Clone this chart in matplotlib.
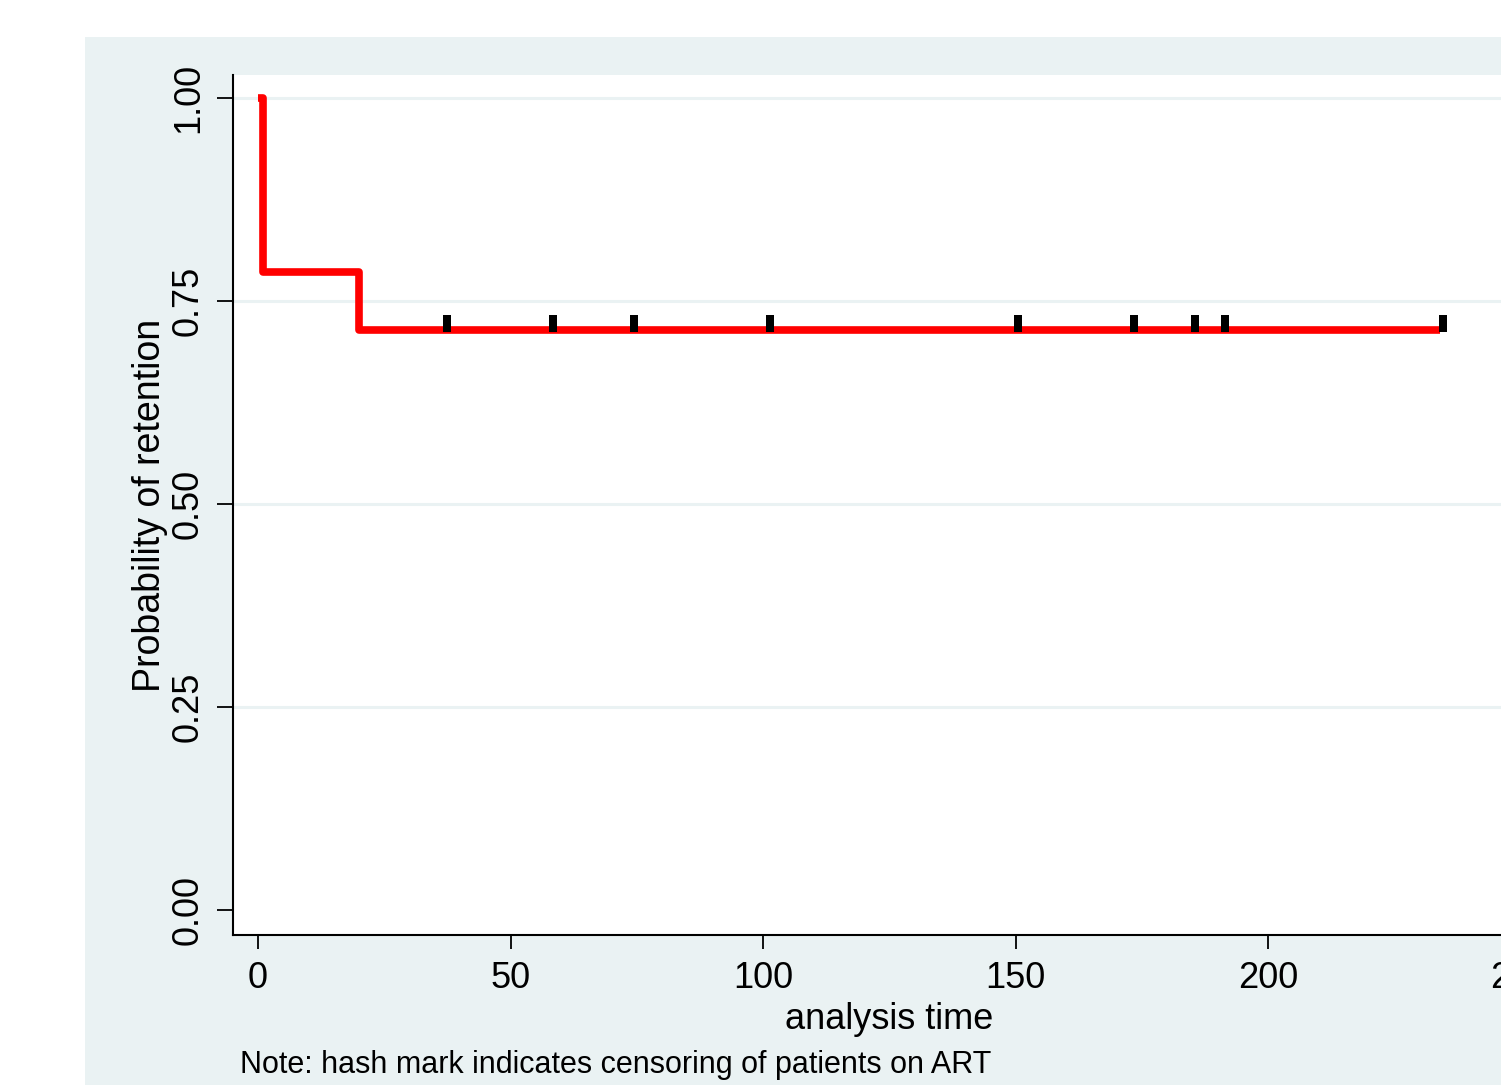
import matplotlib
matplotlib.use("Agg")
import matplotlib.pyplot as plt
from matplotlib.path import Path
from matplotlib.patches import Rectangle
import numpy as np

plt.rcParams['font.family'] = ['Liberation Sans', 'DejaVu Sans']

# Kaplan-Meier step data
km_time = [0, 1, 20, 234]
km_surv = [1.0, 0.786, 0.714, 0.714]
# censoring times (hash marks)
censor_time = [37.4, 58.4, 74.5, 101.4, 150.5, 173.5, 185.5, 191.5, 234.7]
censor_surv = [0.714] * len(censor_time)

xticks = [0, 50, 100, 150, 200, 250]
yticks = [0.0, 0.25, 0.50, 0.75, 1.00]
ytick_labels = ["0.00", "0.25", "0.50", "0.75", "1.00"]

W, H, DPI = 1501, 1085, 100
fig = plt.figure(figsize=(W / DPI, H / DPI), dpi=DPI, facecolor='white')
panel_color = '#EAF2F3'
fig.patches.append(Rectangle((85 / W, 0), 1 - 85 / W, 1 - 37 / H,
                             transform=fig.transFigure, facecolor=panel_color,
                             edgecolor='none', zorder=-10))

ax = fig.add_axes([233 / W, 1 - 935 / H, 0.8746, (935 - 75) / H])
ax.set_facecolor('white')
ax.set_xlim(-4.95, 255)
ax.set_ylim(-0.0308, 1.0283)

for y in yticks[1:]:
    ax.axhline(y, color=panel_color, lw=2.2, zorder=1)

ax.step(km_time, km_surv, where='post', color='#FF0000', lw=5.5,
        solid_joinstyle='round', solid_capstyle='butt', zorder=3)

px = 100 / 72
verts = [(-4, -2), (4, -2), (4, 15), (-4, 15), (-4, -2)]
codes = [Path.MOVETO, Path.LINETO, Path.LINETO, Path.LINETO, Path.CLOSEPOLY]
mpath = Path(verts, codes)
ax.plot(censor_time, censor_surv, linestyle='none', marker=mpath,
        markersize=2 * 15 / px, color='black', markeredgewidth=0, zorder=4)

for s in ['top', 'right']:
    ax.spines[s].set_visible(False)
for s in ['left', 'bottom']:
    ax.spines[s].set_linewidth(1.5)
    ax.spines[s].set_color('black')

ax.set_xticks(xticks)
ax.set_xticklabels([str(t) for t in xticks])
ax.set_yticks(yticks)
ax.set_yticklabels(ytick_labels)
ax.tick_params(axis='both', direction='out', width=1.3, labelsize=26, colors='black')
ax.tick_params(axis='y', length=11.5, pad=8, labelrotation=90)
ax.tick_params(axis='x', length=10, pad=9)
for lab in ax.get_yticklabels():
    lab.set_va('center')

ax.set_ylabel('Probability of retention', fontsize=27)
ax.yaxis.set_label_coords(-0.0496, 0.5)
ax.set_xlabel('analysis time', fontsize=26)
ax.xaxis.set_label_coords(0.5, -0.078)

fig.text(240 / W, 1 - 1065 / H, 'Note: hash mark indicates censoring of patients on ART',
         fontsize=22, ha='left', va='center')

fig.savefig('out.png', dpi=DPI)
